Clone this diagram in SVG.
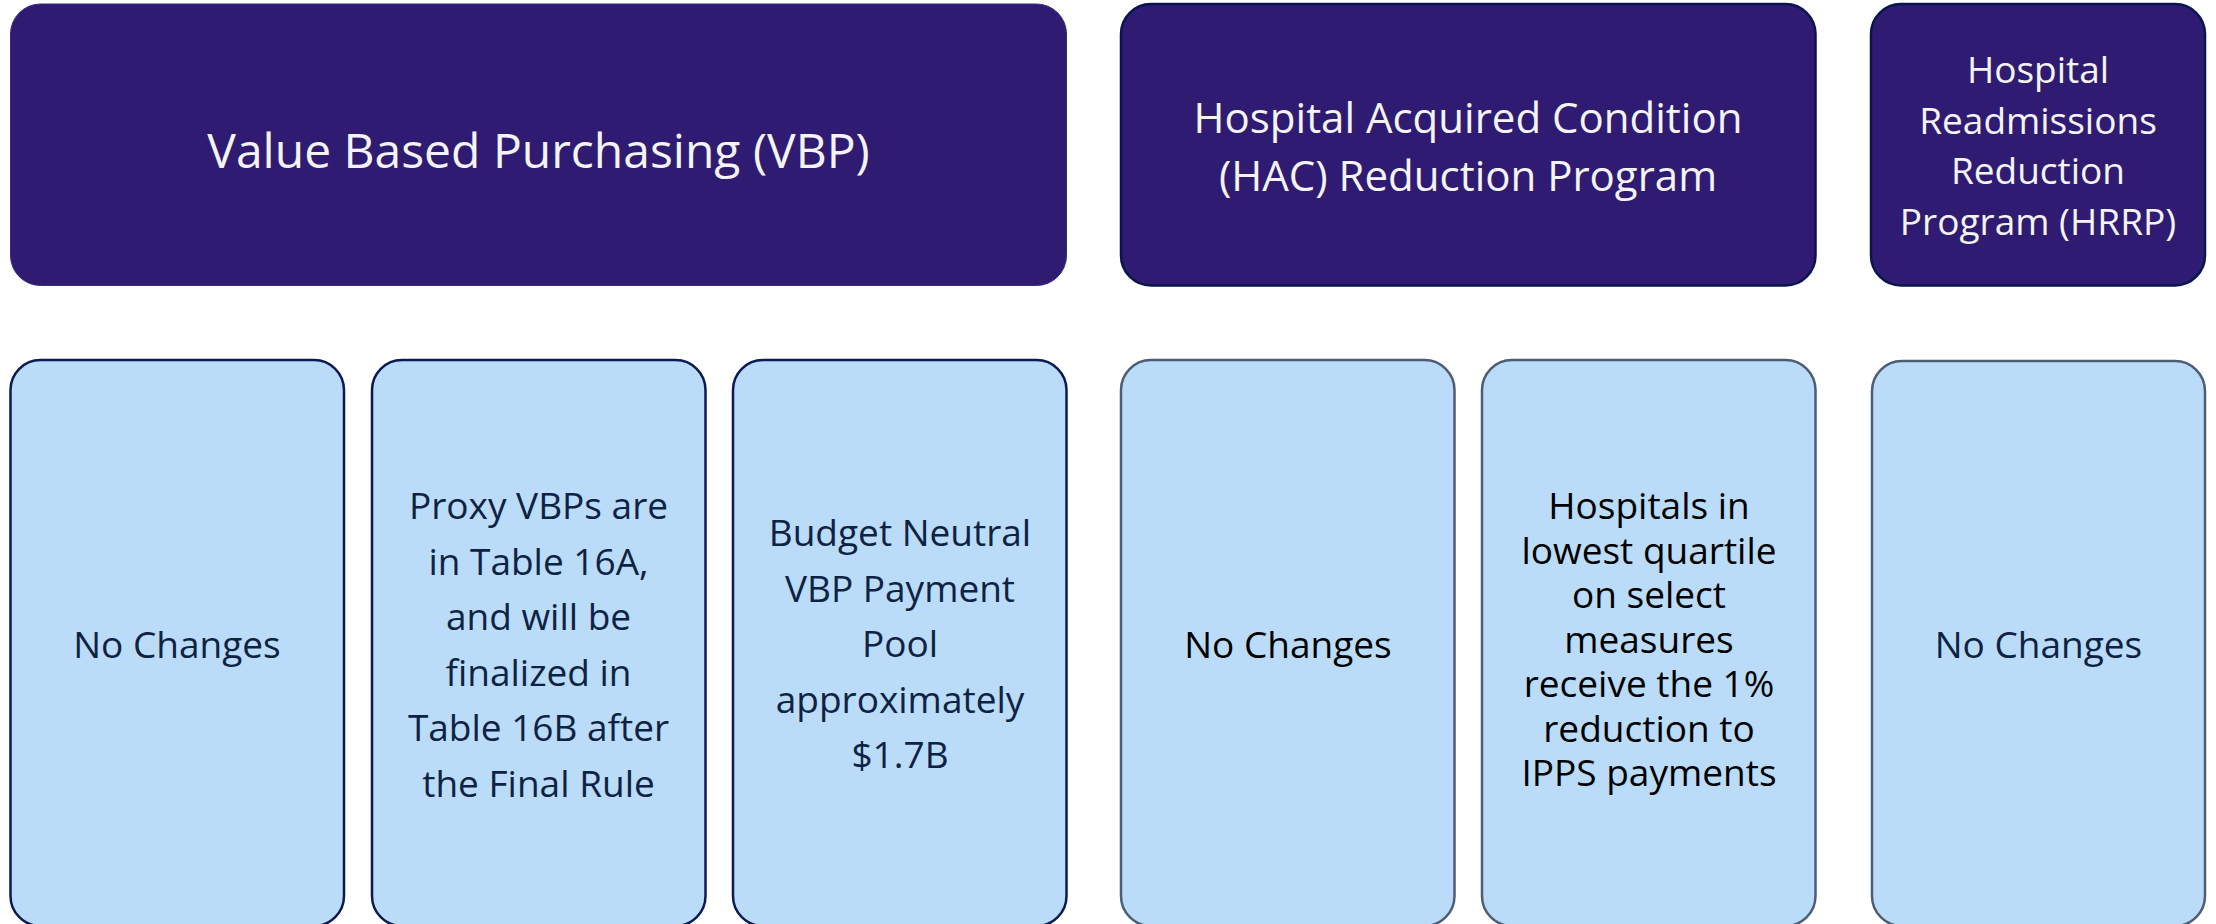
<svg xmlns="http://www.w3.org/2000/svg" width="2216" height="924" viewBox="0 0 2216 924">
<style>
.top{fill:#2F1C72;stroke:#0A1550;stroke-width:2.5}
.topv{fill:#2F1C72;stroke:#3A2A82;stroke-width:1}
.bv{fill:#BBDCF8;stroke:#0B1A55;stroke-width:2.5}
.bh{fill:#BBDCF8;stroke:#4E5D76;stroke-width:2.5}
text{font-family:"Open Sans","Noto Sans","Liberation Sans",sans-serif;text-anchor:middle}
.tw{fill:#F4F4F6}
.tn{fill:#0E2344;font-size:37px}
.tk{fill:#000000;font-size:37px}
</style>
<rect width="2216" height="924" fill="#FFFFFF"/>
<g id="connectors"></g>
<g id="vbp">
<rect class="topv" x="10.5" y="4" width="1056" height="281.5" rx="30"/>
<text class="tw" x="538.5" y="168" font-size="48">Value Based Purchasing (VBP)</text>
</g>
<g id="hac">
<rect class="top" x="1121" y="4" width="694.5" height="281.5" rx="30"/>
<text class="tw" font-size="42"><tspan x="1468" y="133">Hospital Acquired Condition</tspan><tspan x="1468" y="191">(HAC) Reduction Program</tspan></text>
</g>
<g id="hrrp">
<rect class="top" x="1871" y="4" width="334" height="281.5" rx="30"/>
<text class="tw" font-size="37"><tspan x="2038" y="83">Hospital</tspan><tspan x="2038" y="134">Readmissions</tspan><tspan x="2038" y="184">Reduction</tspan><tspan x="2038" y="235">Program (HRRP)</tspan></text>
</g>
<g id="vbp-no-changes">
<rect class="bv" x="10.5" y="360" width="333.5" height="566" rx="30"/>
<text class="tn" x="177" y="658">No Changes</text>
</g>
<g id="vbp-proxy">
<rect class="bv" x="372" y="360" width="333.5" height="566" rx="30"/>
<text class="tn"><tspan x="538.5" y="519">Proxy VBPs are</tspan><tspan x="538.5" y="574.6">in Table 16A,</tspan><tspan x="538.5" y="630.2">and will be</tspan><tspan x="538.5" y="685.8">finalized in</tspan><tspan x="538.5" y="741.4">Table 16B after</tspan><tspan x="538.5" y="797">the Final Rule</tspan></text>
</g>
<g id="vbp-pool">
<rect class="bv" x="733" y="360" width="333.5" height="566" rx="30"/>
<text class="tn"><tspan x="900" y="546">Budget Neutral</tspan><tspan x="900" y="601.5">VBP Payment</tspan><tspan x="900" y="657">Pool</tspan><tspan x="900" y="712.5">approximately</tspan><tspan x="900" y="768">$1.7B</tspan></text>
</g>
<g id="hac-no-changes">
<rect class="bh" x="1121" y="360" width="333.5" height="566" rx="30"/>
<text class="tk" x="1288" y="658">No Changes</text>
</g>
<g id="hac-quartile">
<rect class="bh" x="1482" y="360" width="333.5" height="566" rx="30"/>
<text class="tk"><tspan x="1649" y="519">Hospitals in</tspan><tspan x="1649" y="563.5">lowest quartile</tspan><tspan x="1649" y="608">on select</tspan><tspan x="1649" y="652.5">measures</tspan><tspan x="1649" y="697">receive the 1%</tspan><tspan x="1649" y="741.5">reduction to</tspan><tspan x="1649" y="786">IPPS payments</tspan></text>
</g>
<g id="hrrp-no-changes">
<rect class="bh" x="1872" y="361" width="333" height="565" rx="30"/>
<text class="tn" x="2038.5" y="658">No Changes</text>
</g>
</svg>
